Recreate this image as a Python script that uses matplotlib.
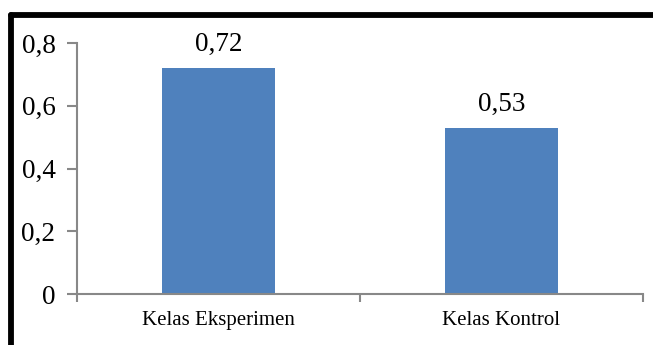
import matplotlib
matplotlib.use("Agg")
import matplotlib.pyplot as plt
from matplotlib.lines import Line2D

categories = ["Kelas Eksperimen", "Kelas Kontrol"]
values = [0.72, 0.53]
value_labels = ["0,72", "0,53"]
yticks = [0, 0.2, 0.4, 0.6, 0.8]
ytick_labels = ["0", "0,2", "0,4", "0,6", "0,8"]

W, H = 653, 345
fig = plt.figure(figsize=(W / 100, H / 100), dpi=100)
fig.patch.set_facecolor("white")
ax = fig.add_axes([77 / W, 1 - 294 / H, (643 - 77) / W, (294 - 43) / H])

x = list(range(len(categories)))
bar_color = "#4f81bd"
ax.bar(x, values, width=0.4, color=bar_color, zorder=2)
ax.set_xlim(-0.5, len(categories) - 0.5)
ax.set_ylim(0, 0.8)

serif = ["Liberation Serif", "DejaVu Serif"]
for xi, v, lab in zip(x, values, value_labels):
    ax.text(xi, v + 0.036, lab, ha="center", va="bottom", fontsize=19.5, family=serif)

ax.set_yticks(yticks)
ax.set_yticklabels(ytick_labels, fontsize=19.5, family=serif)
ax.tick_params(axis="y", length=7, width=1.5, color="#888888", pad=8.5)

# category ticks between categories
ax.set_xticks([-0.5, 0.5, 1.5])
ax.set_xticklabels([])
ax.tick_params(axis="x", length=6, width=1.5, color="#888888")
ax.set_xticks(x, minor=True)
ax.set_xticklabels(categories, minor=True, fontsize=15, family=serif)
ax.tick_params(axis="x", which="minor", length=0, pad=12)

for s in ["top", "right"]:
    ax.spines[s].set_visible(False)
for s in ["left", "bottom"]:
    ax.spines[s].set_color("#888888")
    ax.spines[s].set_linewidth(1.5)

# outer black frame (top and left)
fig.add_artist(Line2D([11 / W, 11 / W], [0, 1 - 15 / H], transform=fig.transFigure,
                      color="black", linewidth=4.2, solid_capstyle="round"))
fig.add_artist(Line2D([11 / W, 1.0], [1 - 15 / H, 1 - 15 / H], transform=fig.transFigure,
                      color="black", linewidth=4.2, solid_capstyle="round"))

fig.savefig("out.png", dpi=100, facecolor="white")
